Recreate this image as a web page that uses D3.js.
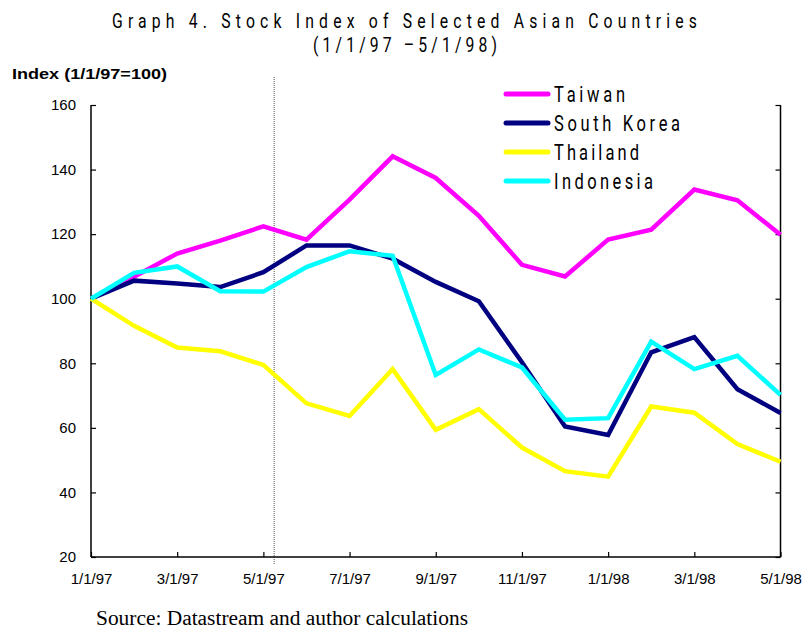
<!DOCTYPE html>
<html>
<head>
<meta charset="utf-8">
<title>Graph 4. Stock Index of Selected Asian Countries</title>
<script src="https://cdnjs.cloudflare.com/ajax/libs/d3/7.8.5/d3.min.js"></script>
<style>
  body { margin: 0; background: #fff; }
  .thin { font-family: Roboto, "Liberation Sans Narrow", "DejaVu Sans Condensed", sans-serif; font-weight: normal; fill: #000; }
  .ax { font-family: "Liberation Sans", Arial, sans-serif; font-size: 15px; fill: #000; }
</style>
</head>
<body>
<svg id="svg" width="806" height="631"></svg>
<script>
// month index 0 = 1/1/97 ... 16 = 5/1/98
const tickLabels = ['1/1/97','3/1/97','5/1/97','7/1/97','9/1/97','11/1/97','1/1/98','3/1/98','5/1/98']
const yTicks = [20, 40, 60, 80, 100, 120, 140, 160]

const taiwan    = [100, 106.8, 114, 118, 122.4, 118.3, 130.7, 144.1, 137.4, 125.7, 110.5, 106.9, 118.3, 121.4, 133.8, 130.5, 119.8]
const korea     = [100, 105.6, 104.7, 103.6, 108.2, 116.5, 116.5, 112.4, 105.2, 99.2, 80.3, 60.4, 57.8, 83.4, 88.1, 72, 64.6]
const thailand  = [100, 91.6, 84.9, 83.7, 79.5, 67.6, 63.7, 78.2, 59.4, 65.8, 53.9, 46.6, 44.9, 66.6, 64.7, 55, 49.5]
const indonesia = [100, 108, 110, 102.3, 102.2, 109.8, 114.7, 113.3, 76.4, 84.3, 78.7, 62.5, 63, 86.7, 78.2, 82.3, 70.2]

const seriesNames  = ['Taiwan', 'South Korea', 'Thailand', 'Indonesia']
const seriesColors = ['#ff00ff', '#000080', '#ffff00', '#00ffff']
const seriesData   = [taiwan, korea, thailand, indonesia]

const svg = d3.select('#svg')

const x = d3.scaleLinear().domain([0, 16]).range([91, 780.5])
const y = d3.scaleLinear().domain([20, 160]).range([557, 105])

// narrow letter-spaced text, like the original's condensed face
const sx = 0.75
function thinText(parent, tx, ty, width, txt, size) {
  return parent.append('text').attr('class', 'thin')
    .attr('transform', `translate(${tx},${ty}) scale(${sx},1)`)
    .attr('font-size', size || 22)
    .attr('textLength', width / sx).attr('lengthAdjust', 'spacing')
    .text(txt)
}

// title
thinText(svg, 112, 28, 585, 'Graph 4. Stock Index of Selected Asian Countries', 21)
thinText(svg, 313, 52, 184, '(1/1/97 \u20135/1/98)', 21)

// y label
svg.append('text')
  .attr('x', 12).attr('y', 79)
  .attr('textLength', 155).attr('lengthAdjust', 'spacingAndGlyphs')
  .style('font-family', '"Liberation Sans", Arial, sans-serif')
  .style('font-weight', 'bold').style('font-size', '15px')
  .text('Index (1/1/97=100)')

// dotted marker
svg.append('line')
  .attr('x1', x(4.25)).attr('x2', x(4.25))
  .attr('y1', 77).attr('y2', 565)
  .attr('stroke', '#555').attr('stroke-width', 1)
  .attr('stroke-dasharray', '1,1')

// axes
const gx = svg.append('g').attr('transform', `translate(0,${y(20)})`)
  .call(d3.axisBottom(x).tickValues(d3.range(0, 17, 2))
    .tickSize(-5).tickPadding(16)
    .tickFormat((d, i) => tickLabels[i]))
const gy = svg.append('g').attr('transform', `translate(${x(0)},0)`)
  .call(d3.axisLeft(y).tickValues(yTicks).tickSize(-5).tickPadding(15))
const gr = svg.append('g').attr('transform', `translate(${x(16)},0)`)
  .call(d3.axisRight(y).tickValues(yTicks).tickSize(-5).tickFormat(''))

for (const g of [gx, gy, gr]) {
  g.select('.domain').remove()
  g.selectAll('line').attr('stroke', '#000').attr('stroke-width', 1.2)
  g.selectAll('text').attr('class', 'ax').attr('font-size', null).attr('font-family', null)
}
svg.append('line').attr('x1', x(0)).attr('x2', x(0)).attr('y1', y(160)).attr('y2', y(20)).attr('stroke', '#000').attr('stroke-width', 1.5)
svg.append('line').attr('x1', x(16)).attr('x2', x(16)).attr('y1', y(160)).attr('y2', y(20)).attr('stroke', '#000').attr('stroke-width', 1.5)
svg.append('line').attr('x1', x(0)).attr('x2', x(16)).attr('y1', y(20)).attr('y2', y(20)).attr('stroke', '#000').attr('stroke-width', 1.5)

// lines
const line = d3.line().x((d, i) => x(i)).y(d => y(d))
svg.selectAll('.series')
  .data(seriesData)
  .enter()
  .append('path')
  .attr('class', 'series')
  .attr('d', line)
  .attr('fill', 'none')
  .attr('stroke', (d, i) => seriesColors[i])
  .attr('stroke-width', 4.5)
  .attr('stroke-linejoin', 'miter')

// legend
const legendW = [71, 126, 85, 99]
const lg = svg.selectAll('.lg')
  .data(seriesNames)
  .enter()
  .append('g')
  .attr('class', 'lg')
  .attr('transform', (d, i) => `translate(506,${94 + i * 29})`)
lg.append('line')
  .attr('x1', 0).attr('x2', 42)
  .attr('stroke', (d, i) => seriesColors[i])
  .attr('stroke-width', 5).attr('stroke-linecap', 'round')
lg.each(function(d, i) {
  thinText(d3.select(this), 48, 8, legendW[i], d)
})

// source
svg.append('text')
  .attr('x', 96).attr('y', 625)
  .attr('textLength', 372).attr('lengthAdjust', 'spacingAndGlyphs')
  .style('font-family', '"Liberation Serif", "Times New Roman", serif')
  .style('font-size', '20px')
  .text('Source: Datastream and author calculations')
</script>
</body>
</html>
